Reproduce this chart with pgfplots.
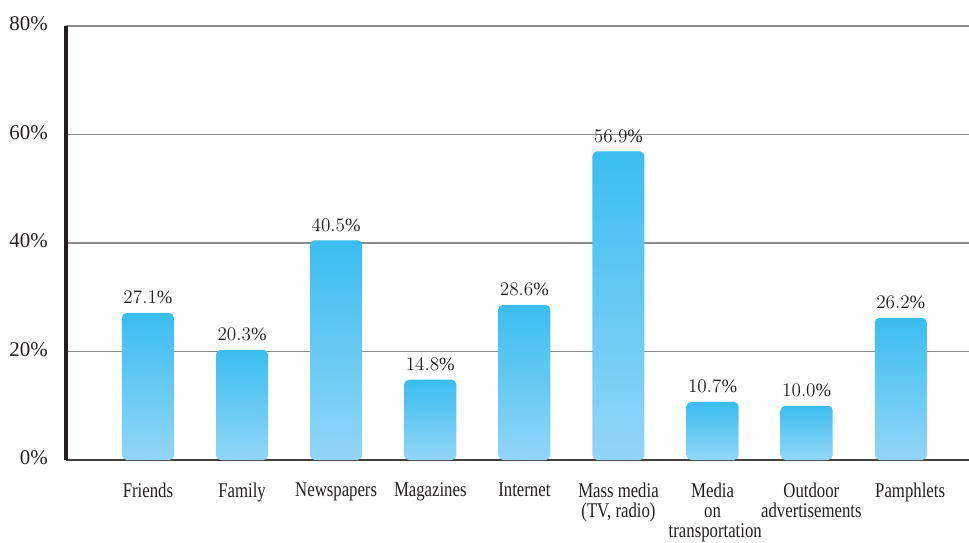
\documentclass[border=0pt]{standalone}
\usepackage{fontspec}
\setmainfont{Liberation Serif}
\newfontfamily\catfont{Liberation Serif}[FakeStretch=0.8]
\usepackage{pgfplots}
\pgfplotsset{compat=1.18}
\definecolor{bartop}{RGB}{58,189,240}
\definecolor{barbot}{RGB}{146,214,247}
\definecolor{axdark}{RGB}{35,31,32}
\tikzset{mybar/.style={draw=none, top color=bartop, bottom color=barbot, rounded corners=3.5pt}}
\begin{document}
\begin{tikzpicture}
\begin{axis}[
  name=ax,
  scale only axis,
  width=677.25pt, height=325.5pt,
  xmin=-0.871, xmax=8.725,
  ymin=0, ymax=80,
  axis lines=left,
  axis line style={-},
  x axis line style={line width=1.1pt, draw=axdark!85},
  y axis line style={line width=3pt, draw=axdark},
  major tick length=0pt,
  ytick={0,20,40,60,80},
  yticklabels={0\%,20\%,40\%,60\%,80\%},
  yticklabel style={anchor=east, inner sep=0pt, xshift=-13.5pt, yshift=1.5pt,
    font=\fontsize{15.7}{16}\selectfont, text=axdark},
  ymajorgrids,
  grid style={line width=0.9pt, draw=black!45},
  xtick={0,...,8},
  xticklabels={Friends,Family,Newspapers,Magazines,Internet,{Mass media\\(TV, radio)},{Media\\on\\\hspace*{4pt}transportation},{\hspace*{7pt}Outdoor\\\hspace*{7pt}advertisements},\hspace*{14pt}Pamphlets},
  xticklabel style={anchor=north, inner sep=0pt, yshift=-17pt, align=center,
    font=\catfont\fontsize{15.7}{15}\selectfont, text=axdark},
  ybar,
  bar width=39pt,
  bar shift=0pt,
  nodes near coords={\pgfmathprintnumber[fixed,fixed zerofill,precision=1]{\pgfplotspointmeta}\%},
  every node near coord/.append style={anchor=south, inner sep=0pt, yshift=6.5pt,
    font=\fontsize{14}{14}\selectfont, text=axdark},
]
\addplot[mybar] coordinates {(0,27.1)};
\addplot[mybar] coordinates {(1,20.3)};
\addplot[mybar] coordinates {(2,40.5)};
\addplot[mybar] coordinates {(3,14.8)};
\addplot[mybar] coordinates {(4,28.6)};
\addplot[mybar] coordinates {(5,56.9)};
\addplot[mybar] coordinates {(6,10.7)};
\addplot[mybar] coordinates {(7,10.0)};
\addplot[mybar] coordinates {(8,26.2)};
\end{axis}
\pgfresetboundingbox
\path[use as bounding box] ([shift={(-49.5pt,345pt)}]ax.south west) rectangle ([shift={(677.25pt,-61.5pt)}]ax.south west);
\end{tikzpicture}
\end{document}
